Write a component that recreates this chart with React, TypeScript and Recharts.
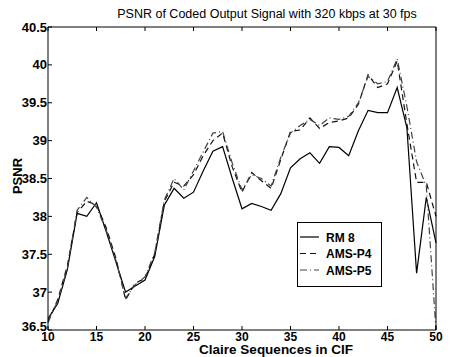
import { LineChart, Line, XAxis, YAxis, Legend } from 'recharts'

const seqIdx = [
  10, 11, 12, 13, 14, 15, 16, 17, 18, 19, 20, 21, 22, 23, 24, 25, 26, 27, 28, 29, 30,
  31, 32, 33, 34, 35, 36, 37, 38, 39, 40, 41, 42, 43, 44, 45, 46, 47, 48, 49, 50,
]
const rm8 = [
  36.65, 36.85, 37.3, 38.04, 38.0, 38.18, 37.8, 37.4, 37.0, 37.08, 37.16, 37.47, 38.15, 38.37, 38.24, 38.32,
  38.6, 38.86, 38.92, 38.5, 38.1, 38.17, 38.13, 38.08, 38.3, 38.64, 38.76, 38.84, 38.7, 38.92, 38.91,
  38.8, 39.13, 39.4, 39.37, 39.37, 39.7, 39.17, 37.25, 38.25, 37.65,
]
const amsP4 = [
  36.6, 36.9, 37.35, 38.05, 38.2, 38.15, 37.85, 37.45, 36.9, 37.12, 37.18, 37.5, 38.2, 38.45, 38.4, 38.55,
  38.8, 39.0, 39.1, 38.65, 38.32, 38.58, 38.47, 38.37, 38.75, 39.12, 39.14, 39.3, 39.16, 39.24, 39.26,
  39.3, 39.48, 39.87, 39.7, 39.75, 40.05, 39.22, 38.45, 38.45, 38.0,
]
const amsP5 = [
  36.62, 36.88, 37.32, 38.08, 38.25, 38.12, 37.82, 37.42, 36.92, 37.1, 37.2, 37.52, 38.22, 38.5, 38.35, 38.6,
  38.85, 39.1, 39.12, 38.7, 38.35, 38.55, 38.5, 38.4, 38.78, 39.1, 39.2, 39.28, 39.2, 39.3, 39.28,
  39.32, 39.5, 39.85, 39.75, 39.78, 40.08, 39.45, 38.72, 38.4, 36.5,
]
const xTicks = [10, 15, 20, 25, 30, 35, 40, 45, 50]
const yTicks = [36.5, 37, 37.5, 38, 38.5, 39, 39.5, 40, 40.5]

const series = [
  { key: 'rm8', name: 'RM 8', color: '#000', dash: undefined as string | undefined },
  { key: 'p4', name: 'AMS-P4', color: '#111', dash: '6 4' },
  { key: 'p5', name: 'AMS-P5', color: '#444', dash: '7 3 1 3' },
]

const data = seqIdx.map((x, i) => ({ x, rm8: rm8[i], p4: amsP4[i], p5: amsP5[i] }))

const FONT = '"Liberation Sans", Arial, sans-serif'

const BottomTick = (props: any) => {
  const { x, y, payload } = props
  return (
    <g>
      <line x1={x} y1={y} x2={x} y2={y - 4} stroke="#000" />
      <text x={x} y={y + 10.5} textAnchor="middle" fontSize={12} fontWeight="bold" fontFamily={FONT} fill="#000">
        {payload.value}
      </text>
    </g>
  )
}

const LeftTick = (props: any) => {
  const { x, y, payload, index } = props
  // lowest label sits a touch higher so it clears the "10" below it
  const dy = index === 0 ? 1 : 4.5
  return (
    <g>
      <line x1={x} y1={y} x2={x + 4} y2={y} stroke="#000" />
      <text x={x - 1} y={y + dy} textAnchor="end" fontSize={13} fontWeight="bold" fontFamily={FONT} fill="#000">
        {payload.value}
      </text>
    </g>
  )
}

const TopTick = (props: any) => {
  const { x, y } = props
  return <line x1={x} y1={y} x2={x} y2={y + 4} stroke="#000" />
}

const RightTick = (props: any) => {
  const { x, y } = props
  return <line x1={x} y1={y} x2={x - 4} y2={y} stroke="#000" />
}

const LegendBox = () => (
  <svg width={85} height={65} style={{ display: 'block' }}>
    <rect x={0.5} y={0.5} width={84} height={64} fill="#fff" stroke="#000" />
    {series.map((s, i) => {
      const cy = 15 + i * 16.5
      return (
        <g key={s.key}>
          <line x1={3} y1={cy} x2={22} y2={cy} stroke={s.color} strokeWidth={1.2} strokeDasharray={s.dash} />
          <text x={29} y={cy + 4.5} fontSize={12} fontWeight="bold" fontFamily={FONT} fill="#000">
            {s.name}
          </text>
        </g>
      )
    })}
  </svg>
)

export default function App() {
  return (
    <div style={{ position: 'absolute', left: 0, top: 0, width: 451, height: 357, background: '#fff' }}>
      <LineChart width={451} height={357} data={data} margin={{ top: 26, right: 14, bottom: 26, left: 47 }}>
        <XAxis
          dataKey="x"
          type="number"
          domain={[10, 50]}
          ticks={xTicks}
          height={1}
          tickSize={0}
          tickMargin={0}
          tickLine={false}
          stroke="#000"
          tick={<BottomTick />}
          interval={0}
        />
        <XAxis
          xAxisId="top"
          orientation="top"
          dataKey="x"
          type="number"
          domain={[10, 50]}
          ticks={xTicks}
          height={1}
          tickSize={0}
          tickMargin={0}
          tickLine={false}
          stroke="#000"
          tick={<TopTick />}
          interval={0}
        />
        <YAxis
          type="number"
          domain={[36.5, 40.5]}
          ticks={yTicks}
          width={1}
          tickSize={0}
          tickMargin={0}
          tickLine={false}
          stroke="#000"
          tick={<LeftTick />}
          interval={0}
        />
        <YAxis
          yAxisId="right"
          orientation="right"
          type="number"
          domain={[36.5, 40.5]}
          ticks={yTicks}
          width={1}
          tickSize={0}
          tickMargin={0}
          tickLine={false}
          stroke="#000"
          tick={<RightTick />}
          interval={0}
        />
        {series.map((s) => (
          <Line
            key={s.key}
            type="linear"
            dataKey={s.key}
            name={s.name}
            stroke={s.color}
            strokeWidth={1.2}
            strokeDasharray={s.dash}
            dot={false}
            isAnimationActive={false}
          />
        ))}
        <Legend
          layout="horizontal"
          verticalAlign="middle"
          align="center"
          content={<LegendBox />}
          wrapperStyle={{ left: 297, top: 222, width: 85, height: 65 }}
        />
      </LineChart>
      <svg
        width={451}
        height={357}
        style={{ position: 'absolute', left: 0, top: 0, pointerEvents: 'none' }}
      >
        <text x={267} y={18} textAnchor="middle" fontSize={12.5} fontFamily={FONT} fill="#000">
          PSNR of Coded Output Signal with 320 kbps at 30 fps
        </text>
        <text x={276} y={354} textAnchor="middle" fontSize={13.5} fontWeight="bold" fontFamily={FONT} fill="#000">
          Claire Sequences in CIF
        </text>
        <text
          x={0}
          y={0}
          transform="translate(22,176) rotate(-90)"
          textAnchor="middle"
          fontSize={13}
          fontWeight="bold"
          fontFamily={FONT}
          fill="#000"
        >
          PSNR
        </text>
      </svg>
    </div>
  )
}
